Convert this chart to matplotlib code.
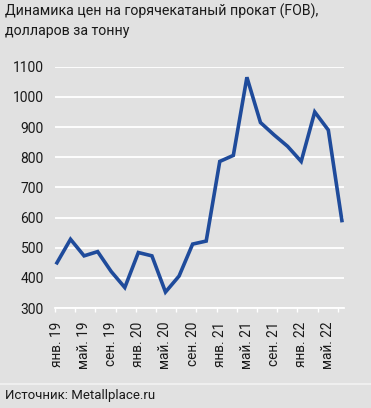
import numpy as np
import matplotlib
matplotlib.use("Agg")
import matplotlib.pyplot as plt

# цены HRC FOB, долл./т, точки через 2 месяца (янв. 19 - июл. 22)
prices = [450, 528, 473, 487, 421, 368, 484, 473, 353, 406, 512, 522,
          786, 806, 1065, 915, 874, 836, 786, 950, 890, 590]
tick_labels = ['янв. 19', 'май. 19', 'сен. 19', 'янв. 20', 'май. 20', 'сен. 20',
               'янв. 21', 'май. 21', 'сен. 21', 'янв. 22', 'май. 22']
y_ticks = [300, 400, 500, 600, 700, 800, 900, 1000, 1100]

plt.rcParams['font.family'] = ['Roboto', 'DejaVu Sans']


def fit(txt, width_px, renderer):
    # подгоняем кегль под ширину текста в референсе
    w = txt.get_window_extent(renderer).width
    txt.set_fontsize(txt.get_fontsize() * width_px / w)


bg = '#e1e1e1'
fig = plt.figure(figsize=(3.71, 4.08), dpi=100, facecolor=bg)
ax = fig.add_axes([0.148, 0.245, 0.779, 0.5915], facecolor=bg)

x = np.arange(len(prices))
ax.plot(x, prices, color='#1f4b9b', lw=2.6, solid_joinstyle='miter', clip_on=False, zorder=3)

ax.set_ylim(300, 1100)
ax.set_xlim(-0.15, 21.15)
ax.set_yticks(y_ticks)
ax.set_yticklabels([str(v) for v in y_ticks], fontsize=12, color='#1a1a1a')
ax.yaxis.grid(True, color='white', lw=1.3)
ax.tick_params(axis='y', length=0, pad=8)

ax.set_xticks(x[::2])
ax.set_xticklabels(tick_labels, rotation=90, fontsize=11, color='#1a1a1a')
ax.set_xticks(np.linspace(-0.15, 20.7, 15), minor=True)
ax.tick_params(axis='x', which='major', length=0, pad=10)
ax.tick_params(axis='x', which='minor', length=3, width=1, color='white', direction='out')

for s in ['top', 'right', 'left']:
    ax.spines[s].set_visible(False)
ax.spines['bottom'].set_color('white')
ax.spines['bottom'].set_linewidth(1.3)

t1 = fig.text(5 / 371, 1 - 4 / 408, 'Динамика цен на горячекатаный прокат (FOB),',
              ha='left', va='top', fontsize=12, color='#1a1a1a')
t2 = fig.text(5 / 371, 1 - 24 / 408, 'долларов за тонну',
              ha='left', va='top', fontsize=12, color='#1a1a1a')

# разделитель и подпись источника
fig.add_artist(plt.Line2D([0, 1], [1 - 384 / 408] * 2, color='#f2f2f2', lw=1.2))
src = fig.text(5 / 371, 1 - 396 / 408, 'Источник: Metallplace.ru',
               ha='left', va='center', fontsize=12, color='#1a1a1a')

fig.canvas.draw()
r = fig.canvas.get_renderer()
fit(t1, 313, r)
t2.set_fontsize(t1.get_fontsize())
fit(src, 150, r)
ylab = ax.get_yticklabels()
fs = ylab[-1].get_fontsize() * 31 / ylab[-1].get_window_extent(r).width
for lab in ylab:
    lab.set_fontsize(fs)
xlab = ax.get_xticklabels()
fs = xlab[0].get_fontsize() * 45 / xlab[0].get_window_extent(r).height
for lab in xlab:
    lab.set_fontsize(fs)

fig.savefig('out.png', dpi=100, facecolor=bg)
